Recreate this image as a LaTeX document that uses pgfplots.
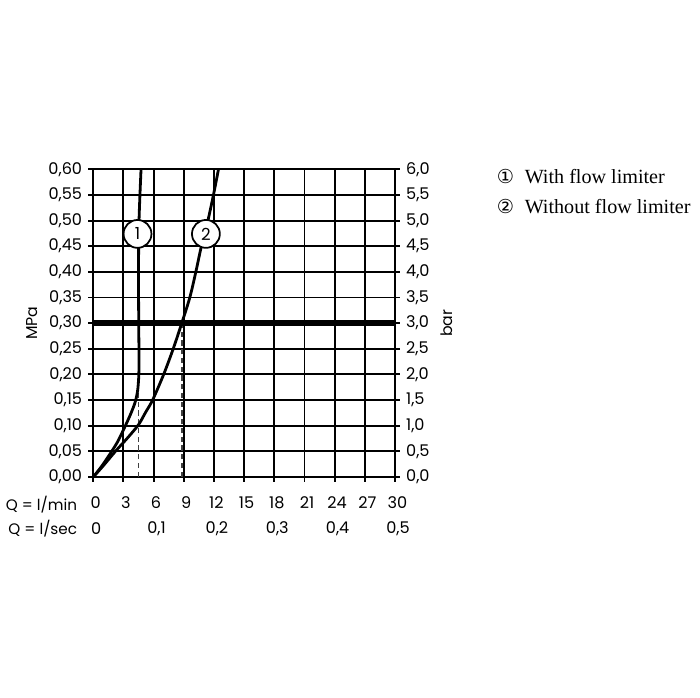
\documentclass[border=0pt]{standalone}
\usepackage{fontspec}
\setmainfont{Poppins}
\newfontfamily\legfont{Liberation Serif}
\newfontfamily\symfont{DejaVu Sans}
\usepackage{pgfplots}
\pgfplotsset{compat=1.18}
\begin{document}
\begin{tikzpicture}
\pgfplotsset{
  common/.style={
    scale only axis, width=6.06cm, height=6.18cm,
    xmin=0, xmax=30,
    axis line style={black, line width=1.1pt},
    tick style={black, line width=1.1pt},
    major tick length=0.1cm,
    tick align=outside,
    ticklabel style={font=\fontsize{9.2}{10}\selectfont},
  }
}
\begin{axis}[common, name=main,
  ymin=0, ymax=0.6,
  clip=false,
  xtick={0,3,6,9,12,15,18,21,24,27,30},
  xticklabels={0,3,6,9,12,15,18,21,24,27,30},
  ytick={0,0.05,0.1,0.15,0.2,0.25,0.3,0.35,0.4,0.45,0.5,0.55,0.6},
  yticklabels={{0,00},{0,05},{0,10},{0,15},{0,20},{0,25},{0,30},{0,35},{0,40},{0,45},{0,50},{0,55},{0,60}},
  xtick pos=bottom, ytick pos=left,
  grid=major,
  major grid style={black, line width=1.1pt},
  xticklabel style={yshift=-0.17cm, xshift=0.05cm},
]
% dashed reference lines
\addplot[black!75, line width=1pt, dash pattern=on 3pt off 2pt] coordinates {(4.5,0) (4.5,0.175)};
\addplot[black!75, line width=1pt, dash pattern=on 3pt off 2pt] coordinates {(8.8,0) (8.8,0.3)};
% thick line at 0.3 MPa
\addplot[black, line width=3.4pt] coordinates {(0,0.3) (30,0.3)};
% curve 2: without flow limiter
\addplot[black, line width=1.6pt, smooth] coordinates {
(0,0) (1,0.022) (2.2,0.05) (3.4,0.076) (4.5,0.102) (5.2,0.126) (5.9,0.15)
(7,0.2) (7.95,0.25) (8.8,0.3) (9.6,0.35) (10.2,0.4) (10.75,0.45)
(11.4,0.5) (11.95,0.55) (12.45,0.6)};
% curve 1: with flow limiter
\addplot[black, line width=1.6pt, smooth] coordinates {
(0,0) (0.8,0.02) (1.6,0.043) (2.4,0.068) (3.1,0.096) (3.7,0.122) (4.15,0.145)
(4.4,0.167) (4.52,0.195) (4.55,0.23) (4.52,0.3) (4.5,0.4) (4.55,0.5) (4.75,0.6)};
\node[circle, draw=black, line width=1pt, fill=white, minimum size=0.56cm, inner sep=0pt,
  font=\fontsize{9.5}{10}\selectfont] at (axis cs:4.4,0.474) {1};
\node[circle, draw=black, line width=1pt, fill=white, minimum size=0.56cm, inner sep=0pt,
  font=\fontsize{9.5}{10}\selectfont] at (axis cs:11.2,0.474) {2};
% l/sec row
\node[font=\fontsize{9.2}{10}\selectfont] at ([xshift=0.06cm, yshift=-1.04cm]axis cs:0,0) {0};
\node[font=\fontsize{9.2}{10}\selectfont] at ([xshift=0.06cm, yshift=-1.04cm]axis cs:6,0) {0,1};
\node[font=\fontsize{9.2}{10}\selectfont] at ([xshift=0.06cm, yshift=-1.04cm]axis cs:12,0) {0,2};
\node[font=\fontsize{9.2}{10}\selectfont] at ([xshift=0.06cm, yshift=-1.04cm]axis cs:18,0) {0,3};
\node[font=\fontsize{9.2}{10}\selectfont] at ([xshift=0.06cm, yshift=-1.04cm]axis cs:24,0) {0,4};
\node[font=\fontsize{9.2}{10}\selectfont] at ([xshift=0.06cm, yshift=-1.04cm]axis cs:30,0) {0,5};
\end{axis}
\begin{axis}[common,
  ymin=0, ymax=6,
  axis x line=none,
  axis y line*=right,
  ytick={0,0.5,1,1.5,2,2.5,3,3.5,4,4.5,5,5.5,6},
  yticklabels={{0,0},{0,5},{1,0},{1,5},{2,0},{2,5},{3,0},{3,5},{4,0},{4,5},{5,0},{5,5},{6,0}},
]
\end{axis}
\node[rotate=90, font=\fontsize{9}{10}\selectfont] at ([xshift=-1.22cm]main.west) {MPa};
\node[rotate=90, font=\fontsize{9}{10}\selectfont] at ([xshift=1.04cm]main.east) {bar};
\node[anchor=east, font=\fontsize{8.7}{10}\selectfont] at ([xshift=-0.2cm, yshift=-0.56cm]main.south west) {Q = l/min};
\node[anchor=east, font=\fontsize{8.7}{10}\selectfont] at ([xshift=-0.2cm, yshift=-1.04cm]main.south west) {Q = l/sec};
% legend
\node[font=\symfont\fontsize{11}{12}\selectfont] at ([xshift=8.28cm, yshift=6.04cm]main.south west) {①};
\node[anchor=west, font=\legfont\fontsize{11.5}{12}\selectfont, inner sep=0pt] at ([xshift=8.66cm, yshift=6.04cm]main.south west) {With flow limiter};
\node[font=\symfont\fontsize{11}{12}\selectfont] at ([xshift=8.28cm, yshift=5.44cm]main.south west) {②};
\node[anchor=west, font=\legfont\fontsize{11.5}{12}\selectfont, inner sep=0pt] at ([xshift=8.66cm, yshift=5.44cm]main.south west) {Without flow limiter};
% bounding box to match reference canvas
\path ([xshift=-1.814cm, yshift=-4.42cm]main.south west) rectangle ([xshift=12.186cm, yshift=9.58cm]main.south west);
\end{tikzpicture}
\end{document}
